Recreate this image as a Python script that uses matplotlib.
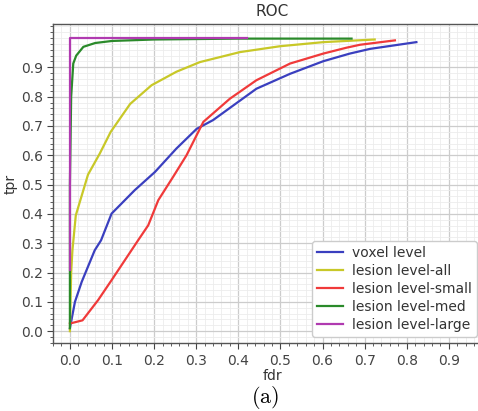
import numpy as np
import matplotlib
matplotlib.use('Agg')
import matplotlib.pyplot as plt
from matplotlib.ticker import MultipleLocator

# ROC points (fdr, tpr) for each evaluation level
voxel_fdr = [0.0, 0.012, 0.028, 0.059, 0.074, 0.099, 0.154, 0.202, 0.253, 0.301, 0.34,
             0.443, 0.523, 0.602, 0.665, 0.713, 0.823]
voxel_tpr = [0.01, 0.10, 0.168, 0.276, 0.31, 0.401, 0.481, 0.543, 0.623, 0.69, 0.72,
             0.827, 0.878, 0.921, 0.947, 0.963, 0.986]

all_fdr = [0.0, 0.003, 0.006, 0.014, 0.043, 0.071, 0.097, 0.143, 0.194, 0.253, 0.309,
           0.404, 0.499, 0.602, 0.724]
all_tpr = [0.0, 0.20, 0.276, 0.395, 0.534, 0.606, 0.68, 0.775, 0.839, 0.885, 0.918,
           0.952, 0.972, 0.986, 0.995]

small_fdr = [0.0, 0.03, 0.067, 0.099, 0.162, 0.186, 0.21, 0.245, 0.277, 0.317, 0.38,
             0.443, 0.523, 0.602, 0.657, 0.689, 0.772]
small_tpr = [0.026, 0.037, 0.106, 0.174, 0.31, 0.361, 0.447, 0.526, 0.60, 0.714, 0.793,
             0.856, 0.913, 0.947, 0.967, 0.977, 0.992]

med_fdr = [0.0, 0.0, 0.003, 0.008, 0.015, 0.032, 0.06, 0.1, 0.2, 0.4, 0.669]
med_tpr = [0.01, 0.5, 0.80, 0.913, 0.94, 0.97, 0.983, 0.99, 0.995, 0.998, 0.998]

large_fdr = [0.0, 0.0, 0.42]
large_tpr = [0.21, 1.0, 1.0]

series = [
    (voxel_fdr, voxel_tpr, '#3a3fbf', 'voxel level'),
    (all_fdr, all_tpr, '#c8c828', 'lesion level-all'),
    (small_fdr, small_tpr, '#f03a3a', 'lesion level-small'),
    (med_fdr, med_tpr, '#2a8a2a', 'lesion level-med'),
    (large_fdr, large_tpr, '#b03ab0', 'lesion level-large'),
]

plt.rcParams['mathtext.fontset'] = 'cm'

fig = plt.figure(figsize=(4.78, 4.11), dpi=100)
ax = fig.add_axes([0.111, 0.165, 0.916, 0.776])

for fx, ty, col, lab in series:
    ax.plot(fx, ty, color=col, lw=1.6, label=lab)

ax.set_xlim(-0.04, 1.0)
ax.set_ylim(-0.041, 1.047)
ax.set_xticks(np.arange(0, 1.0, 0.1))
ax.set_yticks(np.arange(0, 1.0, 0.1))
ax.xaxis.set_minor_locator(MultipleLocator(0.02))
ax.yaxis.set_minor_locator(MultipleLocator(0.02))
ax.grid(True, which='major', color='#cccccc', lw=0.9)
ax.grid(True, which='minor', color='#ececec', lw=0.6)
ax.set_axisbelow(True)
ax.tick_params(which='both', colors='#444444', labelcolor='#444444', labelsize=10)
ax.tick_params(which='major', length=4)
ax.tick_params(which='minor', length=2)
for sp in ax.spines.values():
    sp.set_color('#555555')
    sp.set_linewidth(1.0)

ax.set_title('ROC', fontsize=11, color='#333333')
ax.set_xlabel('fdr', fontsize=10, color='#333333', labelpad=1)
ax.set_ylabel('tpr', fontsize=10, color='#333333', labelpad=2)

ax.legend(loc='lower right', bbox_to_anchor=(0.968, 0.019), borderaxespad=0,
          fontsize=10, framealpha=1.0, edgecolor='#cccccc', handlelength=1.9,
          handletextpad=0.65, borderpad=0.35, labelspacing=0.3, fancybox=True)
for t in ax.get_legend().get_texts():
    t.set_color('#333333')

fig.text(0.555, 0.033, r'$\mathrm{(a)}$', ha='center', va='center', fontsize=16)

fig.savefig('out.png', dpi=100)
